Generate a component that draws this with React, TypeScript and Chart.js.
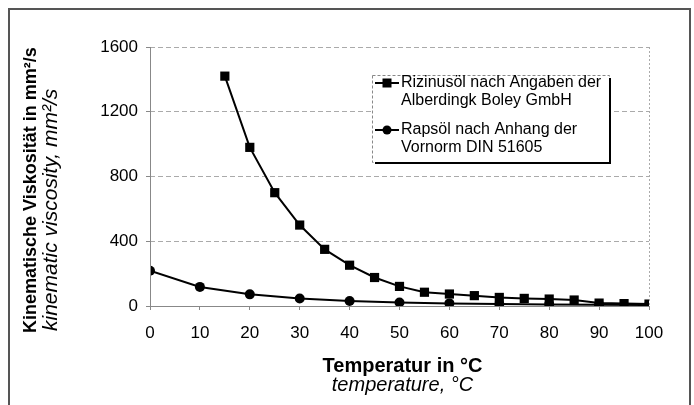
import React, { useEffect, useRef } from "react";
import { Chart, registerables } from "chart.js";

Chart.register(...registerables);

const rizinusTemps = [15, 20, 25, 30, 35, 40, 45, 50, 55, 60, 65, 70, 75, 80, 85, 90, 95, 100];
const rizinusValues = [1420, 980, 700, 500, 350, 252, 176, 121, 85, 74, 64, 53, 47, 43, 37, 18, 15, 12];
const rapsTemps = [0, 10, 20, 30, 40, 50, 60, 70, 80, 90, 100];
const rapsValues = [218, 118, 72, 46, 31, 22, 16, 12, 10, 8, 6];

const seriesNames = [
  ["Rizinusöl nach Angaben der", "Alberdingk Boley GmbH"],
  ["Rapsöl nach Anhang der", "Vornorm DIN 51605"],
];
const yTitle = ["Kinematische Viskosität in mm²/s", "kinematic viscosity, mm²/s"];
const xTitle = ["Temperatur in °C", "temperature, °C"];

const FONT = "'Liberation Sans', Arial, sans-serif";

const decorPlugin = {
  id: "decor",
  afterDatasetsDraw(chart: any) {
    const { ctx, chartArea } = chart;
    ctx.save();
    ctx.strokeStyle = "#888";
    ctx.lineWidth = 1;
    ctx.setLineDash([]);
    ctx.beginPath();
    ctx.moveTo(chartArea.left + 0.5, chartArea.top);
    ctx.lineTo(chartArea.left + 0.5, chartArea.bottom + 0.5);
    ctx.lineTo(chartArea.right, chartArea.bottom + 0.5);
    ctx.stroke();
    ctx.restore();
  },
  afterDraw(chart: any) {
    const { ctx, chartArea } = chart;
    ctx.save();
    const cx = (chartArea.left + chartArea.right) / 2 + 3;
    ctx.fillStyle = "#000";
    ctx.textAlign = "center";
    ctx.textBaseline = "middle";
    ctx.font = `bold 20px ${FONT}`;
    ctx.fillText(xTitle[0], cx, 366);
    ctx.font = `italic 20px ${FONT}`;
    ctx.fillText(xTitle[1], cx, 385);

    const startY = 333;
    ctx.textAlign = "left";
    ctx.save();
    ctx.translate(31, startY);
    ctx.rotate(-Math.PI / 2);
    ctx.font = `bold 18px ${FONT}`;
    ctx.fillText(yTitle[0], 0, 0);
    ctx.restore();
    ctx.save();
    ctx.translate(51, startY - 2);
    ctx.rotate(-Math.PI / 2);
    ctx.font = `italic 21px ${FONT}`;
    ctx.fillText(yTitle[1], 0, 0);
    ctx.restore();

    // legend
    const lx = 372, ly = 75, lw = 237, lh = 87;
    ctx.fillStyle = "#fff";
    ctx.fillRect(lx, ly, lw, lh);
    ctx.strokeStyle = "#888";
    ctx.lineWidth = 1;
    ctx.setLineDash([3, 2]);
    ctx.strokeRect(lx + 0.5, ly + 0.5, lw, lh);
    ctx.setLineDash([]);
    ctx.strokeStyle = "#000";
    ctx.lineWidth = 2;
    ctx.beginPath();
    ctx.moveTo(lx + lw + 1, ly + 3);
    ctx.lineTo(lx + lw + 1, ly + lh + 1);
    ctx.lineTo(lx + 3, ly + lh + 1);
    ctx.stroke();

    const rows = [83, 130];
    rows.forEach((y, i) => {
      ctx.strokeStyle = "#000";
      ctx.lineWidth = 2;
      ctx.beginPath();
      ctx.moveTo(lx + 3, y);
      ctx.lineTo(lx + 27, y);
      ctx.stroke();
      ctx.fillStyle = "#000";
      if (i === 0) {
        ctx.fillRect(lx + 10.5, y - 4.5, 9, 9);
      } else {
        ctx.beginPath();
        ctx.arc(lx + 15, y, 4.5, 0, Math.PI * 2);
        ctx.fill();
      }
      ctx.font = `16px ${FONT}`;
      ctx.textAlign = "left";
      ctx.textBaseline = "middle";
      ctx.fillText(seriesNames[i][0], lx + 29, y);
      ctx.fillText(seriesNames[i][1], lx + 29, y + 18);
    });
    ctx.restore();
  },
};

export default function App() {
  const ref = useRef<HTMLCanvasElement>(null);
  useEffect(() => {
    if (!ref.current) return;
    const chart = new Chart(ref.current, {
      type: "line",
      data: {
        datasets: [
          {
            label: seriesNames[0].join(" "),
            data: rizinusTemps.map((t, i) => ({ x: t, y: rizinusValues[i] })),
            borderColor: "#000",
            backgroundColor: "#000",
            borderWidth: 2,
            pointStyle: "rect",
            pointRadius: 6.5,
            pointBorderWidth: 0,
            tension: 0,
          },
          {
            label: seriesNames[1].join(" "),
            data: rapsTemps.map((t, i) => ({ x: t, y: rapsValues[i] })),
            borderColor: "#000",
            backgroundColor: "#000",
            borderWidth: 2,
            pointStyle: "circle",
            pointRadius: 5,
            pointBorderWidth: 0,
            tension: 0,
          },
        ],
      },
      options: {
        responsive: false,
        animation: false,
        layout: { padding: { left: 0, top: 47, right: 45, bottom: 0 } },
        plugins: { legend: { display: false }, tooltip: { enabled: false } },
        scales: {
          x: {
            type: "linear",
            min: 0,
            max: 100,
            afterFit: (s: any) => {
              s.height = 99;
            },
            ticks: {
              stepSize: 10,
              padding: 13,
              color: "#000",
              font: { family: FONT, size: 17 },
            },
            grid: {
              color: (c: any) => (c.tick && c.tick.value === 100 ? "#aaa" : "rgba(0,0,0,0)"),
              tickColor: "#888",
              tickLength: 4,
            },
            border: { display: false, dash: [2, 2] },
          },
          y: {
            type: "linear",
            min: 0,
            max: 1600,
            afterFit: (s: any) => {
              s.width = 150;
            },
            ticks: {
              stepSize: 400,
              padding: 8,
              color: "#000",
              font: { family: FONT, size: 17 },
              callback: (v: any) => String(v),
            },
            grid: {
              color: (c: any) => (c.tick && c.tick.value === 0 ? "rgba(0,0,0,0)" : "#aaa"),
              tickColor: "#888",
              tickLength: 4,
            },
            border: { display: false, dash: [5, 3] },
          },
        },
      },
      plugins: [decorPlugin],
    });
    return () => chart.destroy();
  }, []);
  return (
    <div style={{ position: "fixed", left: 0, top: 0, width: 694, height: 405, background: "#fff", overflow: "hidden" }}>
      <canvas ref={ref} width={694} height={405} style={{ position: "absolute", left: 0, top: 0 }} />
      <div
        style={{
          position: "absolute",
          left: 8,
          top: 8,
          width: 683,
          height: 420,
          border: "2px solid #555",
          boxSizing: "border-box",
          pointerEvents: "none",
        }}
      />
    </div>
  );
}
